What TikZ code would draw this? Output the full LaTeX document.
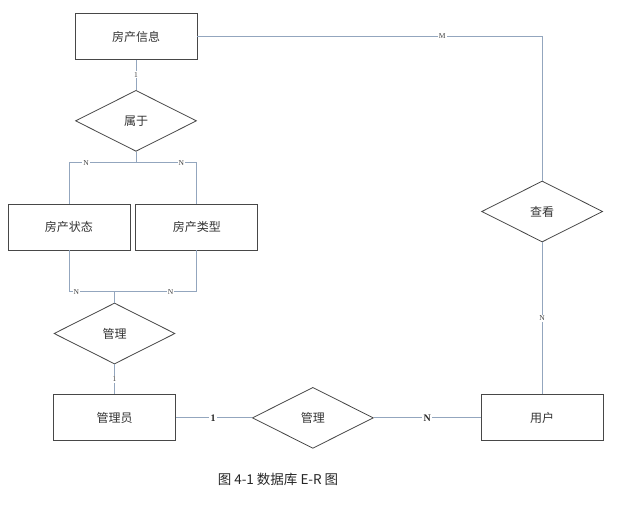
\documentclass[tikz,border=0pt]{standalone}
\usepackage{fontspec}
\setmainfont{Liberation Serif}
\newfontfamily\cjkfont{Noto Sans CJK SC}
\usepackage{xcolor}
\usetikzlibrary{positioning, shapes.geometric}
\definecolor{boxline}{HTML}{474747}
\definecolor{linkline}{HTML}{93A6BE}

\begin{document}
\begin{tikzpicture}[
    x=1pt, y=1pt,
    entity/.style={rectangle, draw=boxline, line width=0.9pt,
                   minimum width=122pt, minimum height=46pt, inner sep=0pt,
                   text=black!80, font=\cjkfont\fontsize{12}{14}\selectfont},
    relation/.style={diamond, draw=boxline, line width=0.8pt,
                   minimum width=121pt, minimum height=61pt, inner sep=0pt,
                   text=black!80, font=\cjkfont\fontsize{12}{14}\selectfont},
    link/.style={draw=linkline, line width=1pt},
    card/.style={fill=white, inner sep=1pt, text=black!75,
                 font=\fontsize{7.5}{8}\selectfont},
    bigcard/.style={fill=white, inner sep=1.5pt, text=black!85,
                 font=\bfseries\fontsize{10}{12}\selectfont},
]
\useasboundingbox (0,0) rectangle (641,-512);

% Top: house information
\node[entity] (info) at (136,-36.5) {房产信息};
\node[relation, below=30pt of info] (belong) {属于};

% Row 2: state / type
\node[entity] (state) at (69,-227) {房产状态};
\node[entity, right=5pt of state] (type) {房产类型};

% Row 3: admin side
\node[relation] (manage1) at (114.5,-333.5) {管理};
\node[entity, below=30pt of manage1] (admin) {管理员};
\node[relation, right=76pt of admin] (manage2) {管理};
\node[entity, right=107pt of manage2] (user) {用户};
\node[relation, above=152pt of user] (view) {查看};

% Forks
\coordinate[below=11pt of belong.south] (fork1);
\coordinate[above=11pt of manage1.north] (fork2);

% Connectors
\draw[link] (info) -- node[card] {1} (belong);
\draw[link] (info.east) -| node[card, pos=0.355] {M} (view.north);
\draw[link] (belong.south) -- (fork1);
\draw[link] (fork1) -| node[card, pos=0.373] {N} (state.north);
\draw[link] (fork1) -| node[card, pos=0.372] {N} (type.north);
\draw[link] (manage1.north) -- (fork2);
\draw[link] (fork2) -| node[card, pos=0.42] {N} (state.south);
\draw[link] (fork2) -| node[card, pos=0.34] {N} (type.south);
\draw[link] (manage1) -- node[card] {1} (admin);
\draw[link] (admin) -- node[bigcard, pos=0.49] {1} (manage2);
\draw[link] (manage2) -- node[bigcard, pos=0.5] {N} (user);
\draw[link] (user) -- node[card] {N} (view);

% Caption
\node[font=\cjkfont\fontsize{13.5}{15}\selectfont, text=black!85] (caption) at (278,-479) {图 4-1 数据库 E-R 图};
\end{tikzpicture}
\end{document}
